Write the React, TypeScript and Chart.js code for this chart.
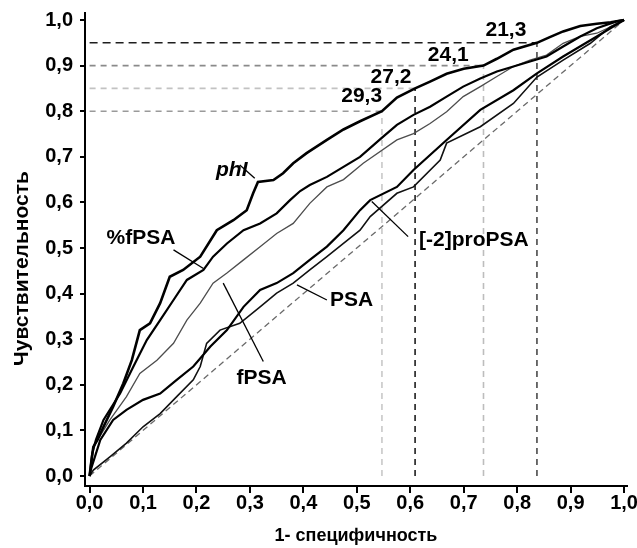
import React, { useEffect, useRef } from "react";
import { Chart, registerables } from "chart.js";

Chart.register(...registerables);

// ---- Data ----
const TICK_VALUES = [0, 0.1, 0.2, 0.3, 0.4, 0.5, 0.6, 0.7, 0.8, 0.9, 1.0];
const TICK_LABELS = ["0,0", "0,1", "0,2", "0,3", "0,4", "0,5", "0,6", "0,7", "0,8", "0,9", "1,0"];

const X_TITLE = "1- специфичность";
const Y_TITLE = "Чувствительность";

const PHI: [number, number][] = [
  [0, 0], [0.003, 0.03], [0.007, 0.064], [0.015, 0.08], [0.026, 0.108], [0.044, 0.152],
  [0.063, 0.203], [0.079, 0.254], [0.094, 0.32], [0.113, 0.335], [0.132, 0.379],
  [0.15, 0.437], [0.175, 0.452], [0.207, 0.481], [0.238, 0.539], [0.269, 0.561],
  [0.294, 0.583], [0.306, 0.62], [0.315, 0.645], [0.344, 0.649], [0.362, 0.664],
  [0.381, 0.686], [0.406, 0.708], [0.444, 0.737], [0.475, 0.76], [0.506, 0.778],
  [0.547, 0.8], [0.575, 0.83], [0.609, 0.85], [0.637, 0.865], [0.668, 0.882],
  [0.7, 0.893], [0.737, 0.9], [0.762, 0.915], [0.793, 0.935], [0.837, 0.95],
  [0.86, 0.962], [0.886, 0.975], [0.918, 0.987], [0.949, 0.992], [0.975, 0.995], [1, 1],
];

const FREE_PCT: [number, number][] = [
  [0, 0], [0.005, 0.05], [0.012, 0.08], [0.026, 0.123], [0.057, 0.181], [0.082, 0.24],
  [0.107, 0.298], [0.132, 0.342], [0.157, 0.386], [0.182, 0.43], [0.213, 0.452],
  [0.231, 0.481], [0.257, 0.51], [0.288, 0.539], [0.319, 0.554], [0.35, 0.576],
  [0.375, 0.605], [0.394, 0.625], [0.412, 0.638], [0.444, 0.656], [0.475, 0.678],
  [0.506, 0.7], [0.545, 0.74], [0.575, 0.77], [0.606, 0.792], [0.637, 0.81],
  [0.668, 0.832], [0.699, 0.854], [0.731, 0.872], [0.762, 0.887], [0.793, 0.898],
  [0.824, 0.909], [0.855, 0.92], [0.886, 0.942], [0.918, 0.964], [0.949, 0.982],
  [0.986, 0.997], [1, 1],
];

const FREE: [number, number][] = [
  [0, 0], [0.004, 0.03], [0.007, 0.064], [0.038, 0.123], [0.069, 0.174], [0.094, 0.225],
  [0.126, 0.254], [0.157, 0.291], [0.182, 0.342], [0.207, 0.379], [0.231, 0.423],
  [0.257, 0.445], [0.288, 0.474], [0.319, 0.503], [0.35, 0.532], [0.381, 0.554],
  [0.412, 0.598], [0.444, 0.634], [0.475, 0.65], [0.512, 0.686], [0.575, 0.737],
  [0.606, 0.751], [0.637, 0.773], [0.668, 0.799], [0.699, 0.832], [0.731, 0.854],
  [0.762, 0.876], [0.793, 0.898], [0.824, 0.912], [0.855, 0.923], [0.886, 0.949],
  [0.918, 0.964], [0.949, 0.971], [0.975, 0.985], [1, 1],
];

const PRO: [number, number][] = [
  [0, 0], [0.002, 0.013], [0.02, 0.079], [0.044, 0.123], [0.069, 0.145], [0.1, 0.167],
  [0.132, 0.181], [0.163, 0.211], [0.194, 0.24], [0.226, 0.284], [0.257, 0.32],
  [0.288, 0.371], [0.319, 0.408], [0.35, 0.423], [0.381, 0.445], [0.412, 0.474],
  [0.444, 0.503], [0.475, 0.539], [0.506, 0.583], [0.525, 0.605], [0.575, 0.634],
  [0.606, 0.671], [0.668, 0.737], [0.731, 0.803], [0.793, 0.846], [0.837, 0.883],
  [0.886, 0.92], [0.949, 0.964], [1, 1],
];

const PSA: [number, number][] = [
  [0, 0], [0.007, 0.013], [0.038, 0.042], [0.069, 0.072], [0.1, 0.108], [0.132, 0.137],
  [0.163, 0.174], [0.194, 0.211], [0.207, 0.24], [0.219, 0.291], [0.244, 0.32],
  [0.281, 0.335], [0.319, 0.371], [0.35, 0.401], [0.381, 0.423], [0.412, 0.452],
  [0.444, 0.481], [0.475, 0.51], [0.506, 0.539], [0.525, 0.569], [0.575, 0.62],
  [0.606, 0.634], [0.656, 0.693], [0.668, 0.73], [0.731, 0.766], [0.793, 0.817],
  [0.837, 0.875], [0.886, 0.912], [0.937, 0.949], [0.974, 0.985], [1, 1],
];

const DIAGONAL: [number, number][] = [[0, 0], [1, 1]];

const THRESHOLD_SENS = [0.8, 0.85, 0.9, 0.95];
const THRESHOLD_FPR = [0.547, 0.609, 0.737, 0.837];
const THRESHOLD_LABELS = ["29,3", "27,2", "24,1", "21,3"];
const THRESHOLD_LABEL_POS: [number, number][] = [[0.509, 0.832], [0.564, 0.875], [0.671, 0.923], [0.779, 0.978]];

const CURVE_NAMES = ["phI", "%fPSA", "fPSA", "PSA", "[-2]proPSA"];
const CURVE_LABEL_POS: [number, number][] = [[0.266, 0.671], [0.096, 0.521], [0.322, 0.214], [0.49, 0.386], [0.719, 0.518]];
const POINTERS: [number, number][][] = [
  [[0.281, 0.682], [0.309, 0.653]],
  [[0.157, 0.496], [0.213, 0.455]],
  [[0.325, 0.251], [0.25, 0.423]],
  [[0.444, 0.386], [0.388, 0.419]],
  [[0.596, 0.525], [0.528, 0.602]],
];

// ---- Styles ----
const FONT = "'Liberation Sans', Arial, sans-serif";
const H_COLORS = ["#9a9a9a", "#c2c2c2", "#8a8a8a", "#1e1e1e"];
const V_COLORS = ["#c8c8c8", "#1e1e1e", "#bdbdbd", "#4a4a4a"];

const X_MIN = -0.0086, X_MAX = 1.0055, Y_MIN = -0.0219, Y_MAX = 1.0154;

const toPts = (arr: [number, number][]) => arr.map(([x, y]) => ({ x, y }));

export default function App() {
  const ref = useRef<HTMLCanvasElement | null>(null);

  useEffect(() => {
    if (!ref.current) return;

    const datasets: any[] = [];
    THRESHOLD_SENS.forEach((s, i) => {
      datasets.push({
        data: [{ x: 0, y: s }, { x: THRESHOLD_FPR[i], y: s }],
        borderColor: H_COLORS[i], borderWidth: 1.6, borderDash: i === 3 ? [8, 5] : [6, 5],
        showLine: true, pointRadius: 0, order: 10,
      });
      datasets.push({
        data: [{ x: THRESHOLD_FPR[i], y: 0 }, { x: THRESHOLD_FPR[i], y: s }],
        borderColor: V_COLORS[i], borderWidth: 1.6, borderDash: [6, 5],
        showLine: true, pointRadius: 0, order: 10,
      });
    });
    datasets.push({
      data: toPts(DIAGONAL), borderColor: "#6a6a6a", borderWidth: 1.3, borderDash: [6, 4],
      showLine: true, pointRadius: 0, order: 8,
    });
    const curves: [any, string, number][] = [
      [FREE, "#4d4d4d", 1.3],
      [PSA, "#111", 1.6],
      [PRO, "#000", 2.2],
      [FREE_PCT, "#000", 2.2],
      [PHI, "#000", 2.6],
    ];
    curves.forEach(([d, c, w], i) => {
      datasets.push({
        data: toPts(d), borderColor: c, borderWidth: w, showLine: true, pointRadius: 0,
        tension: 0, order: 5 - i,
      });
    });
    POINTERS.forEach((p) => {
      datasets.push({
        data: toPts(p), borderColor: "#000", borderWidth: 1.3, showLine: true, pointRadius: 0, order: 0,
      });
    });

    const textPlugin = {
      id: "texts",
      afterDatasetsDraw(chart: any) {
        const { ctx, scales } = chart;
        const xs = scales.x, ys = scales.y;
        ctx.save();
        ctx.fillStyle = "#000";
        ctx.textAlign = "center";
        ctx.textBaseline = "middle";
        CURVE_NAMES.forEach((t, i) => {
          ctx.font = (i === 0 ? "italic " : "") + "bold 21px " + FONT;
          ctx.fillText(t, xs.getPixelForValue(CURVE_LABEL_POS[i][0]), ys.getPixelForValue(CURVE_LABEL_POS[i][1]));
        });
        ctx.font = "bold 21px " + FONT;
        THRESHOLD_LABELS.forEach((t, i) => {
          ctx.fillText(t, xs.getPixelForValue(THRESHOLD_LABEL_POS[i][0]), ys.getPixelForValue(THRESHOLD_LABEL_POS[i][1]));
        });
        // y-axis title, centred a little below the axis middle as in the reference
        ctx.translate(22, ys.getPixelForValue(0.455));
        ctx.rotate(-Math.PI / 2);
        ctx.font = "bold 21px " + FONT;
        ctx.fillText(Y_TITLE, 0, 0);
        ctx.restore();
      },
    };

    const tickFont = { family: FONT, size: 20, weight: "bold" as const };
    const setTicks = (scale: any) => {
      scale.ticks = TICK_VALUES.map((v) => ({ value: v }));
    };
    const noPad = (s: any) => {
      s.paddingTop = 0; s.paddingBottom = 0; s.paddingLeft = 0; s.paddingRight = 0;
    };

    const chart = new Chart(ref.current, {
      type: "scatter",
      data: { datasets },
      options: {
        animation: false,
        responsive: false,
        layout: { padding: { left: 0, right: 10, top: 13, bottom: 0 } },
        plugins: { legend: { display: false }, tooltip: { enabled: false } },
        scales: {
          x: {
            type: "linear", min: X_MIN, max: X_MAX,
            afterBuildTicks: setTicks,
            afterFit: (s: any) => { s.height = 62; noPad(s); },
            ticks: { font: tickFont, color: "#000", padding: -2, maxRotation: 0, callback: (_v: any, i: number) => TICK_LABELS[i] },
            grid: { display: true, drawOnChartArea: false, drawTicks: true, tickLength: 7, color: "#000", lineWidth: 2 },
            border: { display: true, color: "#000", width: 2 },
            title: { display: true, text: X_TITLE, font: { family: FONT, size: 18, weight: "bold" }, color: "#000", padding: { top: 0, bottom: 1 } },
          },
          y: {
            type: "linear", min: Y_MIN, max: Y_MAX,
            afterBuildTicks: setTicks,
            afterFit: (s: any) => { s.width = 85; noPad(s); },
            ticks: { font: tickFont, color: "#000", padding: 7, callback: (_v: any, i: number) => TICK_LABELS[i] },
            grid: { display: true, drawOnChartArea: false, drawTicks: true, tickLength: 5, color: "#000", lineWidth: 2 },
            border: { display: true, color: "#000", width: 2 },
            title: { display: false },
          },
        },
      },
      plugins: [textPlugin],
    });

    return () => chart.destroy();
  }, []);

  return (
    <div style={{ position: "absolute", left: 0, top: 0, width: 637, height: 548, background: "#fff" }}>
      <canvas ref={ref} width={637} height={548} />
    </div>
  );
}
